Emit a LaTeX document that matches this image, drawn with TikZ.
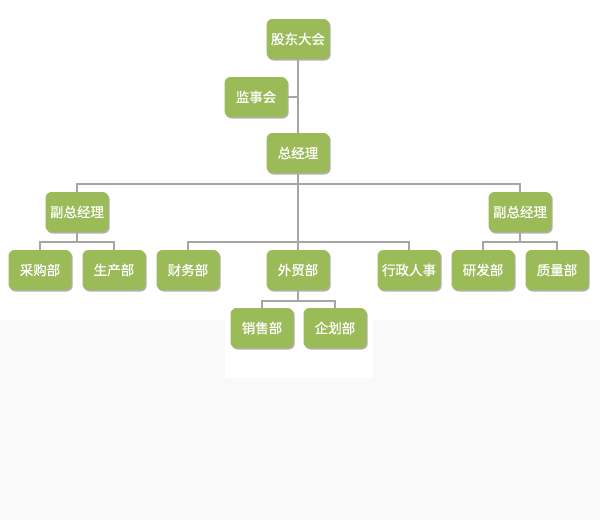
\documentclass[tikz,border=0pt]{standalone}
\usepackage{fontspec}
\newfontfamily\cjk[FakeBold=0.6]{Noto Sans CJK SC}
\usetikzlibrary{shadows}
\definecolor{boxgreen}{HTML}{9BBB59}
\definecolor{linegray}{HTML}{A6A6A6}
\definecolor{bggray}{HTML}{F9F9F9}
\tikzset{
  orgbox/.style={rounded corners=6pt, fill=boxgreen, minimum width=63pt, minimum height=40pt,
    text=white, inner sep=0pt, font=\cjk\fontsize{13.5}{14}\selectfont,
    drop shadow={shadow xshift=1.2pt, shadow yshift=-1.5pt, fill=black!30, opacity=1}},
  conn/.style={draw=linegray, line width=1.2pt}
}
\begin{document}
\begin{tikzpicture}[x=1pt,y=1pt]
\useasboundingbox (0,0) rectangle (600,-520);
\fill[white] (0,0) rectangle (600,-520);
\fill[bggray] (0,-320) rectangle (600,-520);
\fill[white] (225,-320) rectangle (373,-378);
% nodes
\node[orgbox] (gd) at (298,-39) {股东大会};
\node[orgbox] (js) at (256,-97) {监事会};
\node[orgbox] (zjl) at (298,-153) {总经理};
\node[orgbox] (vpl) at (77,-212) {副总经理};
\node[orgbox] (vpr) at (520,-212) {副总经理};
\node[orgbox] (cg) at (40,-270) {采购部};
\node[orgbox] (sc) at (114,-270) {生产部};
\node[orgbox] (cw) at (188,-270) {财务部};
\node[orgbox] (wm) at (298,-270) {外贸部};
\node[orgbox] (xz) at (409,-270) {行政人事};
\node[orgbox] (yf) at (483,-270) {研发部};
\node[orgbox] (zl) at (557,-270) {质量部};
\node[orgbox] (xs) at (262,-328) {销售部};
\node[orgbox] (qh) at (335,-328) {企划部};
% junctions
\coordinate (hb) at (298,-184);
\coordinate (mb) at (298,-242);
\coordinate (lb) at (77,-242);
\coordinate (rb) at (520,-242);
\coordinate (wb) at (298,-301);
% connectors
\draw[conn] (gd.south) -- (zjl.north);
\draw[conn] (js.east) -- (js.east -| gd.south);
\draw[conn] (zjl.south) -- (hb);
\draw[conn] (vpl.north) |- (hb) -| (vpr.north);
\draw[conn] (hb) -- (wm.north);
\draw[conn] (cw.north) |- (mb) -| (xz.north);
\draw[conn] (vpl.south) -- (lb);
\draw[conn] (cg.north) |- (lb) -| (sc.north);
\draw[conn] (vpr.south) -- (rb);
\draw[conn] (yf.north) |- (rb) -| (zl.north);
\draw[conn] (wm.south) -- (wb);
\draw[conn] (xs.north) |- (wb) -| (qh.north);
\end{tikzpicture}
\end{document}
